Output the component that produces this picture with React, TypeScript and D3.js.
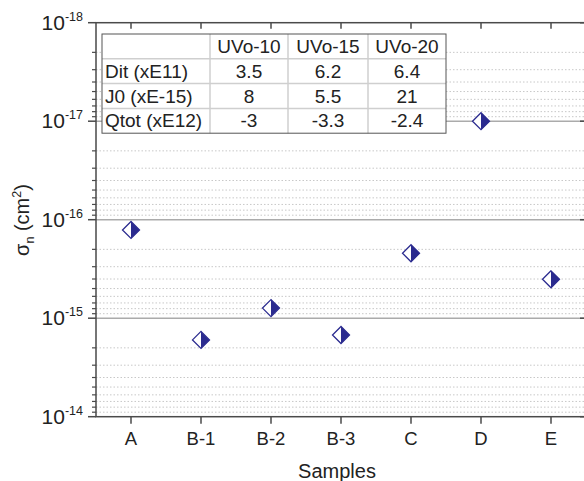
import React from "react";
import * as d3 from "d3";

// chart values
const samples = ["A", "B-1", "B-2", "B-3", "C", "D", "E"];
const sigmaN = [1.27e-16, 1.66e-15, 7.9e-16, 1.48e-15, 2.19e-16, 1.0e-17, 4.03e-16];
const decades = [-18, -17, -16, -15, -14];

// inset table
const tableCols = ["UVo-10", "UVo-15", "UVo-20"];
const tableRows = ["Dit (xE11)", "J0 (xE-15)", "Qtot (xE12)"];
const ditVals = ["3.5", "6.2", "6.4"];
const j0Vals = ["8", "5.5", "21"];
const qtotVals = ["-3", "-3.3", "-2.4"];

const W = 584;
const H = 481;
const left = 96;
const right = 586;
const top = 22.7;
const bottom = 416.7;
const FONT = "'Liberation Sans', Arial, Helvetica, sans-serif";
const AXIS = "#4a4a4a";
const TEXT = "#222";
const BLUE = "#2b2b8f";

export default function App() {
  const x = d3.scaleBand<string>().domain(samples).range([left, right]);
  const y = d3.scaleLog().domain([1e-18, 1e-14]).range([top, bottom]);
  const cx = (s: string) => (x(s) ?? 0) + x.bandwidth() / 2;

  const majors = decades.map((e) => Math.pow(10, e));
  const minors: number[] = [];
  decades.slice(0, -1).forEach((e) => {
    for (let k = 2; k <= 9; k++) minors.push(k * Math.pow(10, e));
  });

  const r = 8.5;
  const tableRowsData = [ditVals, j0Vals, qtotVals];
  const tx = 102;
  const ty = 34;
  const colW = [108, 78, 80, 78];
  const rowH = 24.8;
  const colX = colW.reduce<number[]>((acc, w) => [...acc, acc[acc.length - 1] + w], [tx]);
  const tW = colX[colX.length - 1] - tx;
  const tH = rowH * 4;
  const tfs = 19;

  return (
    <svg
      width={W}
      height={H}
      style={{ position: "absolute", left: 0, top: 0, background: "#fff" }}
      fontFamily={FONT}
    >
      {/* minor grid */}
      {minors.map((v, i) => (
        <line key={"mg" + i} x1={left} x2={right} y1={y(v)} y2={y(v)}
          stroke="#c8c8c8" strokeWidth={1} strokeDasharray="1.5,2" />
      ))}
      {/* major grid */}
      {majors.slice(1, -1).map((v, i) => (
        <line key={"Mg" + i} x1={left} x2={right} y1={y(v)} y2={y(v)}
          stroke="#ababab" strokeWidth={1.5} />
      ))}

      {/* inset table */}
      <rect x={tx} y={ty} width={tW} height={tH} fill="#fff" />
      {[1, 2, 3].map((i) => (
        <line key={"tr" + i} x1={tx} x2={tx + tW} y1={ty + i * rowH} y2={ty + i * rowH}
          stroke="#cfcfcf" strokeWidth={1.5} />
      ))}
      {colX.slice(1, -1).map((cxv, i) => (
        <line key={"tc" + i} x1={cxv} x2={cxv} y1={ty} y2={ty + tH}
          stroke="#cfcfcf" strokeWidth={1.5} />
      ))}
      <rect x={tx} y={ty} width={tW} height={tH} fill="none" stroke="#555" strokeWidth={1} />
      {tableCols.map((c, j) => (
        <text key={"th" + j} x={(colX[j + 1] + colX[j + 2]) / 2} y={ty + rowH / 2 + 6.5}
          textAnchor="middle" fontSize={tfs} fill={TEXT}>{c}</text>
      ))}
      {tableRows.map((rname, i) => (
        <g key={"row" + i}>
          <text x={tx + 3} y={ty + (i + 1.5) * rowH + 6.5} fontSize={tfs} fill={TEXT}>{rname}</text>
          {tableRowsData[i].map((v, j) => (
            <text key={j} x={(colX[j + 1] + colX[j + 2]) / 2} y={ty + (i + 1.5) * rowH + 6.5}
              textAnchor="middle" fontSize={tfs} fill={TEXT}>{v}</text>
          ))}
        </g>
      ))}

      {/* frame */}
      <rect x={left} y={top} width={right - left} height={bottom - top}
        fill="none" stroke={AXIS} strokeWidth={1.5} />

      {/* left ticks */}
      {majors.map((v, i) => (
        <line key={"lt" + i} x1={left - 8} x2={left} y1={y(v)} y2={y(v)} stroke={AXIS} strokeWidth={1.5} />
      ))}
      {minors.map((v, i) => (
        <line key={"lmt" + i} x1={left - 4} x2={left} y1={y(v)} y2={y(v)} stroke={AXIS} strokeWidth={1.2} />
      ))}
      {/* right ticks (inward) */}
      {majors.map((v, i) => (
        <line key={"rt" + i} x1={right - 6} x2={right} y1={y(v)} y2={y(v)} stroke={AXIS} strokeWidth={1.5} />
      ))}
      {/* bottom + top ticks */}
      {samples.map((s) => (
        <g key={"xt" + s}>
          <line x1={cx(s)} x2={cx(s)} y1={bottom} y2={bottom + 7} stroke={AXIS} strokeWidth={1.5} />
          <line x1={cx(s)} x2={cx(s)} y1={top} y2={top + 6} stroke={AXIS} strokeWidth={1.5} />
          <text x={cx(s)} y={bottom + 28.5} textAnchor="middle" fontSize={18.5} fill={TEXT}>{s}</text>
        </g>
      ))}

      {/* y tick labels */}
      {decades.map((e) => (
        <text key={"yl" + e} x={83} y={y(Math.pow(10, e)) + 7} textAnchor="end" fontSize={21} fill={TEXT}>
          10<tspan fontSize={12.5} dy={-9}>{e}</tspan>
        </text>
      ))}

      {/* markers */}
      {samples.map((s, i) => {
        const px = cx(s);
        const py = y(sigmaN[i]);
        return (
          <g key={"m" + s} transform={`translate(${px},${py})`}>
            <path d={`M0,${-r}L${-r},0L0,${r}Z`} fill="#fff" />
            <path d={`M0,${-r}L${r},0L0,${r}Z`} fill={BLUE} />
            <path d={`M0,${-r}L${-r},0L0,${r}L${r},0Z`} fill="none" stroke={BLUE} strokeWidth={1.3} />
          </g>
        );
      })}

      {/* axis titles */}
      <text x={(left + right) / 2 - 4} y={477.5} textAnchor="middle" fontSize={20} fill={TEXT}>Samples</text>
      <text transform="translate(29,220) rotate(-90)" textAnchor="middle" fontSize={20} fill={TEXT}>
        σ<tspan fontSize={12.5} dy={5}>n</tspan>
        <tspan dy={-5}> (cm</tspan>
        <tspan fontSize={12.5} dy={-8}>2</tspan>
        <tspan dy={8}>)</tspan>
      </text>
    </svg>
  );
}
